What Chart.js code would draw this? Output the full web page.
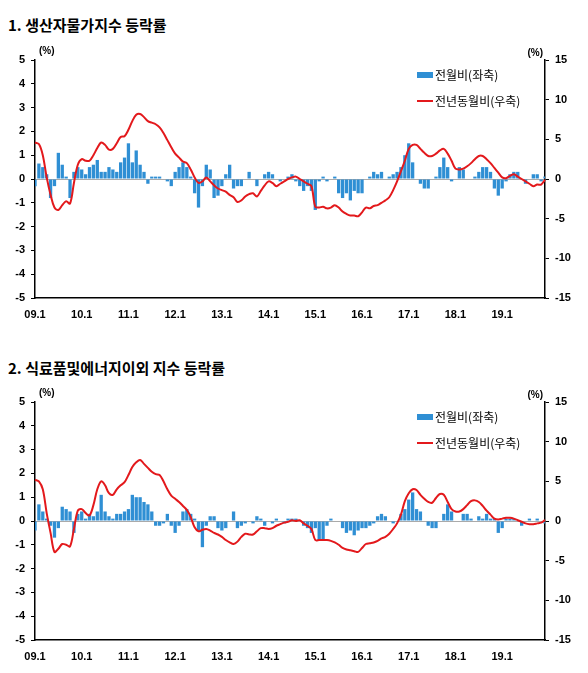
<!DOCTYPE html>
<html><head><meta charset="utf-8">
<script src="https://cdn.jsdelivr.net/npm/chart.js@4/dist/chart.umd.min.js"></script>
<style>
body{margin:0;background:#fff;font-family:"Noto Sans CJK KR",sans-serif;}
.t{position:absolute;left:8px;font-weight:bold;font-size:15px;color:#000;}
.c{position:absolute;left:0;width:588px;height:282px;}
</style></head><body>
<div class="t" style="top:14px">1. 생산자물가지수 등락률</div>
<div class="c" style="top:38px"><canvas id="c1"></canvas></div>
<div class="t" style="top:357px">2. 식료품및에너지이외 지수 등락률</div>
<div class="c" style="top:380px"><canvas id="c2"></canvas></div>
<script>
// months 2009.1 - 2019.12
const labels = [];
for (let y = 9; y <= 19; y++) for (let m = 1; m <= 12; m++) labels.push(String(y).padStart(2, '0') + '.' + m);

const leftTicks = [5, 4, 3, 2, 1, 0, -1, -2, -3, -4, -5];
const rightTicks = [15, 10, 5, 0, -5, -10, -15];
const legendNames = ['전월비(좌축)', '전년동월비(우축)'];

// 1. producer price index
const ppiMoM = [
  -0.3,0.65,0.5,0.2,-0.8,-0.3,1.1,0.6,0.1,-0.8,0.3,0.5,
  0.4,0.2,0.5,0.6,0.8,0.3,0.3,0.5,0.4,0.3,0.7,0.9,
  1.5,0.7,1.2,0.6,0.3,-0.2,0.1,0.1,0.1,0,-0.1,-0.3,
  0.3,0.5,0.7,0.5,0.1,-0.6,-1.2,-0.3,0.6,0.4,-0.8,-0.7,
  -0.3,0.2,0.6,-0.4,-0.3,-0.3,0,0.3,0,-0.3,0,0.2,
  0.3,0.2,0,-0.1,0,0.1,0.2,-0.1,-0.3,-0.5,-0.3,-0.5,
  -1.3,-0.1,0.1,-0.1,0,0.1,-0.6,-0.8,-0.6,-0.9,-0.5,-0.6,
  -0.6,0,0.1,0.3,0.2,0.3,0,0.1,0.2,0.3,0.5,1.0,
  1.5,0.7,0,-0.2,-0.4,-0.4,0,0.1,0.5,0.9,0.5,-0.1,
  0,0.5,0.4,0,0,0.1,0.3,0.5,0.5,0.3,-0.4,-0.7,
  -0.4,-0.1,0.2,0.3,0.3,0,-0.2,0,0.2,0.2,-0.1,0.1
];
const ppiYoY = [
  4.6,4.4,3.0,0.2,-2.0,-3.6,-3.9,-3.3,-2.8,-3.1,-0.5,1.8,
  2.5,2.3,2.3,3.0,3.9,4.6,4.3,3.7,3.8,4.5,5.3,5.4,
  6.2,7.3,8.1,8.2,7.8,7.3,7.1,6.9,6.5,5.8,4.9,4.0,
  3.2,2.7,2.2,2.0,1.2,0.2,-0.5,-0.3,0.2,-0.3,-0.8,-1.2,
  -1.4,-1.6,-2.0,-2.3,-2.9,-2.7,-2.2,-1.9,-1.8,-2.2,-1.5,-0.8,
  -0.3,-0.5,-0.9,-0.6,-0.3,0,0.2,0.3,0,-0.3,-0.6,-0.9,
  -3.5,-3.6,-3.5,-3.7,-3.6,-3.3,-3.6,-4.1,-4.4,-4.6,-4.6,-4.7,
  -4.2,-3.6,-3.7,-3.4,-3.3,-3.0,-2.7,-2.3,-1.4,-0.3,1.0,2.3,
  3.8,4.3,4.3,3.8,3.3,2.9,2.9,3.2,3.6,3.8,3.2,2.3,
  1.3,1.2,1.3,1.6,2.0,2.5,2.9,2.9,2.5,2.0,1.4,0.8,
  0.2,0.1,0.4,0.6,0.3,0.0,-0.3,-0.6,-0.9,-0.7,-0.7,-0.1
];

// 2. excluding food and energy
const coreMoM = [
  -0.4,0.7,0.4,0.1,-0.2,-0.7,-0.3,0.6,0.5,0.4,-0.5,0.3,
  0.4,0.1,0.3,0.2,0.4,1.1,0.4,0.2,0.1,0.3,0.3,0.4,
  0.5,1.1,1.0,1.0,0.8,0.7,0.4,-0.2,-0.2,-0.1,0.3,-0.2,
  -0.5,-0.2,0.4,0.5,0.3,0.1,-0.4,-1.1,-0.2,0.2,0.2,-0.3,
  -0.4,-0.3,0,0.4,-0.3,-0.2,-0.1,0,-0.1,0.2,0.1,-0.2,
  0,-0.1,0.1,0,-0.1,0.1,0.1,0.1,0,-0.2,-0.3,-0.5,
  -0.3,-0.8,-0.8,-0.2,0.1,0,0,-0.3,-0.5,-0.4,-0.6,-0.4,
  -0.3,-0.3,-0.2,-0.1,0.2,0.3,0.2,0,-0.1,0,0.3,0.5,
  0.9,1.2,0.5,0.4,0,-0.2,-0.3,-0.3,0,0.3,0.7,0.4,
  0,0,0.3,0.3,0.1,0,0.2,0.1,0.3,0.1,0.1,-0.5,
  -0.3,0.1,0.1,0.1,0,-0.2,0,0.1,0,0.1,0,-0.1
];
const coreYoY = [
  5.2,5.0,4.0,1.0,-1.5,-3.9,-3.5,-2.9,-3.0,-3.2,-1.0,1.3,
  1.5,1.0,0.7,2.0,4.0,5.0,4.5,3.5,3.3,4.0,4.5,4.9,
  5.8,6.8,7.4,7.7,7.2,6.7,6.2,5.9,5.8,5.0,4.0,3.2,
  2.8,2.4,1.9,1.4,0.5,-0.8,-1.3,-1.1,-1.0,-1.2,-1.5,-1.7,
  -2.0,-2.4,-2.7,-2.9,-2.6,-2.0,-1.6,-1.7,-1.7,-1.3,-0.9,-0.9,
  -1.0,-0.9,-0.6,-0.4,-0.2,-0.1,0.1,0.0,0.1,-0.3,-0.6,-1.0,
  -2.4,-2.4,-2.4,-2.4,-2.5,-2.7,-3.0,-3.4,-3.6,-3.7,-3.8,-3.9,
  -3.4,-2.9,-2.8,-2.7,-2.5,-2.2,-2.0,-1.6,-1.0,-0.3,0.8,2.5,
  3.5,4.0,3.9,3.3,2.8,2.4,2.3,2.9,3.4,3.3,2.4,1.5,
  1.2,1.2,1.5,2.0,2.5,2.6,2.4,1.9,1.3,0.8,0.3,0.2,
  0.3,0.4,0.4,0.3,0.1,-0.1,-0.3,-0.4,-0.4,-0.3,-0.2,0.1
];

const BLUE = '#2f8fd4';
const RED = '#e3191c';
const tickFont = { family: 'Arial, "Liberation Sans"', size: 11, weight: 'bold' };

// draws the (%) units and the legend inside the plot
const extras = {
  id: 'extras',
  afterDraw(chart) {
    const ctx = chart.ctx, a = chart.chartArea;
    ctx.save();
    ctx.fillStyle = '#000';
    ctx.font = 'bold 10px Arial';
    ctx.textBaseline = 'bottom';
    ctx.textAlign = 'left';
    ctx.fillText('(%)', a.left + 4, a.top - 4);
    ctx.textAlign = 'right';
    ctx.fillText('(%)', a.right - 2, a.top - 2);
    const lx = a.left + 382;
    ctx.textAlign = 'left';
    ctx.textBaseline = 'middle';
    ctx.font = '12px "Noto Sans CJK KR"';
    ctx.fillStyle = BLUE;
    ctx.fillRect(lx, a.top + 12, 16, 6);
    ctx.fillStyle = '#000';
    ctx.fillText(legendNames[0], lx + 18, a.top + 15);
    ctx.strokeStyle = RED; ctx.lineWidth = 2;
    ctx.beginPath(); ctx.moveTo(lx, a.top + 41); ctx.lineTo(lx + 16, a.top + 41); ctx.stroke();
    ctx.fillText(legendNames[1], lx + 18, a.top + 41);
    ctx.restore();
  }
};

const makeChart = (id, mom, yoy) => {
  new Chart(document.getElementById(id), {
    data: {
      labels,
      datasets: [
        { type: 'line', label: legendNames[1], data: yoy, yAxisID: 'yr', borderColor: RED, borderWidth: 2, pointRadius: 0, tension: 0.35, order: 0 },
        { type: 'bar', label: legendNames[0], data: mom, yAxisID: 'yl', backgroundColor: BLUE, barPercentage: 1, categoryPercentage: 0.85, order: 1 }
      ]
    },
    options: {
      animation: false,
      responsive: true,
      maintainAspectRatio: false,
      layout: { padding: { top: 22, left: 0, right: 0, bottom: 0 } },
      plugins: { legend: { display: false }, tooltip: { enabled: false } },
      scales: {
        x: {
          offset: false,
          grid: { display: false },
          border: { color: '#000', width: 1.5 },
          ticks: {
            autoSkip: false, maxRotation: 0, font: tickFont, color: '#000', padding: 2,
            callback: (v, i) => labels[i].endsWith('.1') ? labels[i] : ''
          },
          afterFit: s => { s.height = 22; }
        },
        yl: {
          position: 'left', min: -5, max: 5,
          afterBuildTicks: s => { s.ticks = leftTicks.map(v => ({ value: v })); },
          ticks: { font: tickFont, color: '#000', padding: 6 },
          grid: { color: c => c.tick && c.tick.value === 0 ? '#aaa' : 'rgba(0,0,0,0)', tickColor: '#000', tickLength: 4 },
          border: { color: '#000', width: 1.5 },
          afterFit: s => { s.width = 35; }
        },
        yr: {
          position: 'right', min: -15, max: 15,
          afterBuildTicks: s => { s.ticks = rightTicks.map(v => ({ value: v })); },
          ticks: { font: tickFont, color: '#000', padding: 6 },
          grid: { drawOnChartArea: false, tickColor: '#000', tickLength: 4 },
          border: { color: '#000', width: 1.5 },
          afterFit: s => { s.width = 43; }
        }
      }
    },
    plugins: [extras]
  });
};

makeChart('c1', ppiMoM, ppiYoY);
makeChart('c2', coreMoM, coreYoY);
</script>
</body></html>
